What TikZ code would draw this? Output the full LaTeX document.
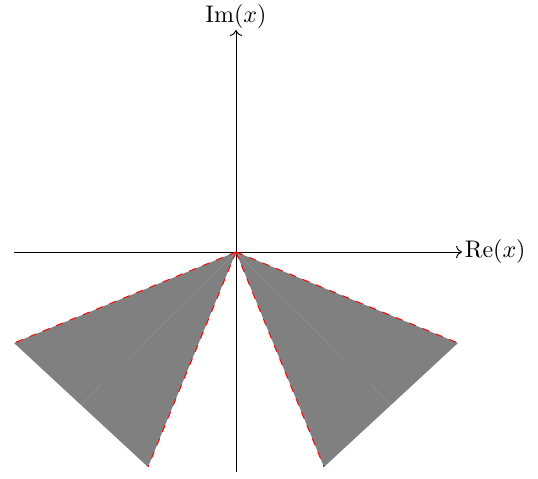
\documentclass[tikz,border=0pt]{standalone}
\usetikzlibrary{arrows.meta,calc}
\begin{document}
\begin{tikzpicture}[x=0.4167pt,y=-0.4167pt,
  axis/.style={->,line width=0.4pt},
  wedge/.style={fill=black!50,draw=none},
  edge/.style={red,dashed,line width=0.4pt}]
\useasboundingbox (0,0) rectangle (538,479);
\coordinate (O) at (236,252);
\coordinate (xl) at (14,252);
\coordinate (xr) at (462,252);
\coordinate (yb) at (236,472);
\coordinate (yt) at (236,30);
\coordinate (A1) at (14,343);
\coordinate (B1) at (148,467);
\coordinate (M1) at ($(A1)!0.5!(B1)$);
\coordinate (A2) at (458,343);
\coordinate (B2) at (324,467);
\coordinate (M2) at ($(A2)!0.5!(B2)$);
\fill[wedge] (O) -- (A1) -- (M1) -- cycle;
\fill[wedge] (O) -- (M1) -- (B1) -- cycle;
\fill[wedge] (O) -- (A2) -- (M2) -- cycle;
\fill[wedge] (O) -- (M2) -- (B2) -- cycle;
\draw[axis] (xl) -- (xr) node[right,inner sep=1pt] (re) {Re$(x)$};
\draw[axis] (yb) -- (yt) node[above,inner sep=0.5pt] (im) {Im$(x)$};
\draw[edge] (O) -- (A1);
\draw[edge] (O) -- (B1);
\draw[edge] (O) -- (A2);
\draw[edge] (O) -- (B2);
\end{tikzpicture}
\end{document}
